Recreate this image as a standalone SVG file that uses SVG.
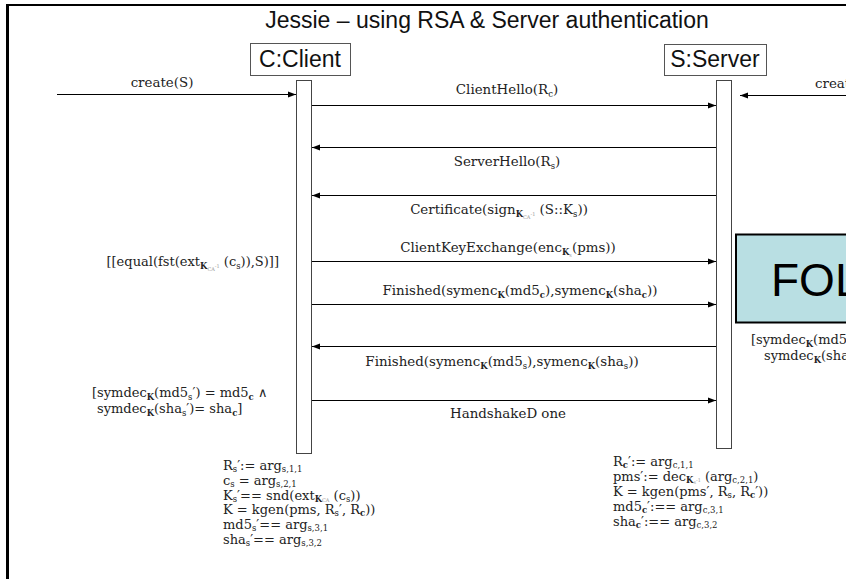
<svg xmlns="http://www.w3.org/2000/svg" width="846" height="579" viewBox="0 0 846 579">
  <style>
    .title { font-family: "Liberation Sans", Arial, sans-serif; font-size: 23px; fill: #111; }
    .obj { font-family: "Liberation Sans", Arial, sans-serif; font-size: 23px; fill: #111; }
    .t { font-family: "DejaVu Serif", "Liberation Serif", serif; font-size: 13.4px; fill: #222; }
    .b { font-size: 13px; }
    .s { font-size: 8.5px; }
    .k { font-size: 8.5px; font-weight: bold; }
    .ss { font-size: 5px; fill: #999; }
    .box { fill: #fff; stroke: #555; stroke-width: 1; }
    .act { fill: #fff; stroke: #444; stroke-width: 1; }
    .msg { stroke: #000; stroke-width: 1; fill: none; }
  </style>
  <defs>
    <marker id="arr" markerWidth="9" markerHeight="7" refX="8" refY="3.5" orient="auto" markerUnits="userSpaceOnUse">
      <path d="M0,0.5 L8,3.5 L0,6.5 z" fill="#000"/>
    </marker>
  </defs>

  <rect width="846" height="579" fill="#fff"/>

  <!-- outer frame -->
  <g id="frame">
    <line x1="6" y1="5" x2="846" y2="5" stroke="#000" stroke-width="2"/>
    <line x1="7.5" y1="4" x2="7.5" y2="579" stroke="#000" stroke-width="3"/>
  </g>

  <text class="title" x="487" y="28" text-anchor="middle">Jessie – using RSA &amp; Server authentication</text>

  <!-- client -->
  <g id="client">
    <rect class="box" x="250.5" y="43.5" width="100" height="32"/>
    <text class="obj" x="300" y="67" text-anchor="middle">C:Client</text>
    <rect class="act" x="296.5" y="80.5" width="15" height="373"/>
  </g>

  <!-- server -->
  <g id="server">
    <rect class="box" x="664.5" y="44.5" width="102" height="31"/>
    <text class="obj" x="715" y="67" text-anchor="middle">S:Server</text>
    <rect class="act" x="716.5" y="80.5" width="15" height="368"/>
  </g>

  <!-- FOL note -->
  <g id="fol">
    <rect x="736" y="234.5" width="120" height="88" fill="#b9dfe3" stroke="#000" stroke-width="2"/>
    <text x="771" y="296" font-family="Liberation Sans, Arial, sans-serif" font-size="46" fill="#000">FOL</text>
  </g>

  <!-- messages -->
  <g id="connectors">
    <line class="msg" x1="57" y1="94.5" x2="296" y2="94.5" marker-end="url(#arr)"/>
    <line class="msg" x1="846" y1="95.5" x2="740" y2="95.5" marker-end="url(#arr)"/>
    <line class="msg" x1="312" y1="105.5" x2="716" y2="105.5" marker-end="url(#arr)"/>
    <line class="msg" x1="716" y1="147.5" x2="312" y2="147.5" marker-end="url(#arr)"/>
    <line class="msg" x1="716" y1="195.5" x2="312" y2="195.5" marker-end="url(#arr)"/>
    <line class="msg" x1="312" y1="261.5" x2="716" y2="261.5" marker-end="url(#arr)"/>
    <line class="msg" x1="312" y1="304.5" x2="716" y2="304.5" marker-end="url(#arr)"/>
    <line class="msg" x1="716" y1="346.5" x2="312" y2="346.5" marker-end="url(#arr)"/>
    <line class="msg" x1="312" y1="400.5" x2="716" y2="400.5" marker-end="url(#arr)"/>
  </g>

  <!-- message labels -->
  <g id="labels">
    <text class="t" x="162" y="87" text-anchor="middle">create(S)</text>
    <text class="t" x="815" y="88">creat</text>
    <text class="t" x="507" y="94" text-anchor="middle">ClientHello(R<tspan class="s" dy="3">c</tspan><tspan dy="-3">)</tspan></text>
    <text class="t" x="507" y="166" text-anchor="middle">ServerHello(R<tspan class="s" dy="3">s</tspan><tspan dy="-3">)</tspan></text>
    <text class="t" x="499" y="214" text-anchor="middle">Certificate(sign<tspan class="k" dy="3">K</tspan><tspan class="ss" dy="2">CA</tspan><tspan class="ss" dy="-3">-1</tspan><tspan dy="-2"> (S::K</tspan><tspan class="s" dy="3">s</tspan><tspan dy="-3">))</tspan></text>
    <text class="t" x="508" y="252" text-anchor="middle">ClientKeyExchange(enc<tspan class="k" dy="3">K</tspan><tspan class="ss" dy="2">s</tspan><tspan dy="-5">(pms))</tspan></text>
    <text class="t" x="520" y="295" text-anchor="middle">Finished(symenc<tspan class="k" dy="3">K</tspan><tspan dy="-3">(md5</tspan><tspan class="k" dy="3">c</tspan><tspan dy="-3">),symenc</tspan><tspan class="k" dy="3">K</tspan><tspan dy="-3">(sha</tspan><tspan class="k" dy="3">c</tspan><tspan dy="-3">))</tspan></text>
    <text class="t" x="502" y="366" text-anchor="middle">Finished(symenc<tspan class="k" dy="3">K</tspan><tspan dy="-3">(md5</tspan><tspan class="s" dy="3">s</tspan><tspan dy="-3">),symenc</tspan><tspan class="k" dy="3">K</tspan><tspan dy="-3">(sha</tspan><tspan class="s" dy="3">s</tspan><tspan dy="-3">))</tspan></text>
    <text class="t" x="508" y="418" text-anchor="middle">HandshakeD one</text>
  </g>

  <!-- guards -->
  <g id="guards">
    <text class="t b" x="279" y="266" text-anchor="end">[[equal(fst(ext<tspan class="k" dy="3">K</tspan><tspan class="ss" dy="2">CA</tspan><tspan class="ss" dy="-3">-1</tspan><tspan dy="-2"> (c</tspan><tspan class="s" dy="3">s</tspan><tspan dy="-3">)),S)]]</tspan></text>
    <text class="t b" x="92" y="397">[symdec<tspan class="k" dy="3">K</tspan><tspan dy="-3">(md5</tspan><tspan class="s" dy="3">s</tspan><tspan dy="-3">′) = md5</tspan><tspan class="k" dy="3">c</tspan><tspan dy="-3"> ∧</tspan></text>
    <text class="t b" x="97" y="413">symdec<tspan class="k" dy="3">K</tspan><tspan dy="-3">(sha</tspan><tspan class="s" dy="3">s</tspan><tspan dy="-3">′)= sha</tspan><tspan class="k" dy="3">c</tspan><tspan dy="-3">]</tspan></text>
    <text class="t b" x="751" y="344">[symdec<tspan class="k" dy="3">K</tspan><tspan dy="-3">(md5</tspan></text>
    <text class="t b" x="764" y="360">symdec<tspan class="k" dy="3">K</tspan><tspan dy="-3">(sha</tspan></text>
  </g>

  <!-- client-side assignments -->
  <g id="client-vars">
    <text class="t b" x="223" y="470">R<tspan class="s" dy="2">s</tspan><tspan dy="-2">′:= arg</tspan><tspan class="s" dy="2">s,1,1</tspan></text>
    <text class="t b" x="223" y="484.8">c<tspan class="s" dy="2">s</tspan><tspan dy="-2"> = arg</tspan><tspan class="s" dy="2">s,2,1</tspan></text>
    <text class="t b" x="223" y="499.6">K<tspan class="s" dy="2">s</tspan><tspan dy="-2">′== snd(ext</tspan><tspan class="k" dy="2">K</tspan><tspan class="ss" dy="0.5">CA</tspan><tspan dy="-2.5"> (c</tspan><tspan class="s" dy="2">s</tspan><tspan dy="-2">))</tspan></text>
    <text class="t b" x="223" y="514.4">K = kgen(pms, R<tspan class="s" dy="2">s</tspan><tspan dy="-2">′, R</tspan><tspan class="k" dy="2">c</tspan><tspan dy="-2">))</tspan></text>
    <text class="t b" x="223" y="529.2">md5<tspan class="s" dy="2">s</tspan><tspan dy="-2">′== arg</tspan><tspan class="s" dy="2">s,3,1</tspan></text>
    <text class="t b" x="223" y="544">sha<tspan class="s" dy="2">s</tspan><tspan dy="-2">′== arg</tspan><tspan class="s" dy="2">s,3,2</tspan></text>
  </g>

  <!-- server-side assignments -->
  <g id="server-vars">
    <text class="t b" x="613" y="466">R<tspan class="k" dy="2">c</tspan><tspan dy="-2">′:= arg</tspan><tspan class="s" dy="2">c,1,1</tspan></text>
    <text class="t b" x="613" y="481">pms′:= dec<tspan class="k" dy="2">K</tspan><tspan class="ss" dy="0.5">s</tspan><tspan class="ss" dy="-2">-1</tspan><tspan dy="-0.5"> (arg</tspan><tspan class="s" dy="2">c,2,1</tspan><tspan dy="-2">)</tspan></text>
    <text class="t b" x="613" y="496">K = kgen(pms′, R<tspan class="s" dy="2">s</tspan><tspan dy="-2">, R</tspan><tspan class="k" dy="2">c</tspan><tspan dy="-2">′))</tspan></text>
    <text class="t b" x="613" y="511">md5<tspan class="k" dy="2">c</tspan><tspan dy="-2">′:== arg</tspan><tspan class="s" dy="2">c,3,1</tspan></text>
    <text class="t b" x="613" y="526">sha<tspan class="k" dy="2">c</tspan><tspan dy="-2">′:== arg</tspan><tspan class="s" dy="2">c,3,2</tspan></text>
  </g>
</svg>
